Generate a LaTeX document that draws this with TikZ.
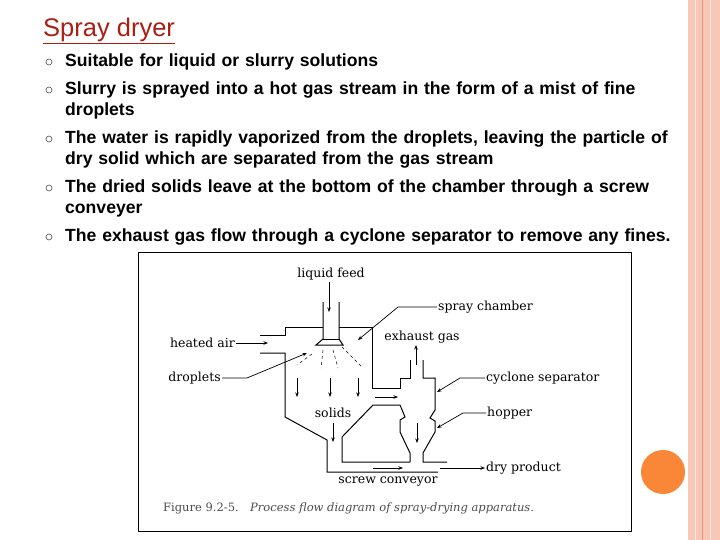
\documentclass[tikz,border=0pt]{standalone}
\usepackage{fontspec}
\setmainfont{Liberation Sans}
\newfontfamily\dsf{DejaVu Serif}
\usetikzlibrary{arrows.meta}
\definecolor{peach}{RGB}{248,200,182}
\definecolor{peachline}{RGB}{236,150,120}
\definecolor{ttl}{RGB}{170,30,20}
\definecolor{orng}{RGB}{250,134,56}
\begin{document}
\begin{tikzpicture}[x=1pt,y=-1pt,
  bul/.style={anchor=west,font=\bfseries\fontsize{17.6}{21.5}\selectfont,text width=640pt,inner sep=0pt},
  dot/.style={draw=black!70,circle,line width=0.6pt,minimum size=6pt,inner sep=0pt},
  lab/.style={font=\dsf\fontsize{12.5}{14}\selectfont,inner sep=1pt},
  ln/.style={line width=1pt},
  arr/.style={line width=0.7pt,-{Stealth[length=4.5pt,width=3.5pt]}}]
\useasboundingbox (0,0) rectangle (720,540);
\fill[white] (0,0) rectangle (720,540);
\fill[peach] (688,0) rectangle (720,540);
\draw[white!60!peach,line width=0.8pt] (695,0)--(695,540);
\draw[peachline,line width=0.8pt] (702,0)--(702,540);
\draw[white!60!peach,line width=0.8pt] (710,0)--(710,540);
\fill[orng] (663,472) circle (22);
\node[anchor=west,inner sep=0pt,text=ttl,font=\fontsize{25.5}{27}\selectfont] (t) at (43,31) {\underline{Spray dryer}};
\foreach \y/\n in {62/a,90/b,139/c,188/d,237/e}{\node[dot] (d\n) at (49,\y) {};}
\node[bul] (ba) at (65,62) {Suitable for liquid or slurry solutions};
\node[bul,anchor=north west] (bb) at (65,81.5) {Slurry is sprayed into a hot gas stream in the form of a mist of fine\\droplets};
\node[bul,anchor=north west] (bc) at (65,130.5) {The water is rapidly vaporized from the droplets, leaving the particle of\\dry solid which are separated from the gas stream};
\node[bul,anchor=north west] (bd) at (65,179.5) {The dried solids leave at the bottom of the chamber through a screw\\conveyer};
\node[bul] (be) at (65,237) {The exhaust gas flow through a cyclone separator to remove any fines.};
% figure frame
\draw[line width=0.8pt] (138,252) rectangle (631,531);
% apparatus
\draw[ln] (323,302)--(323,339)--(316,345)--(343,345)--(339,339)--(339,302);
\draw[ln] (323,339)--(339,339);
\draw[ln] (260,335)--(285,335)--(285,327)--(323,327);
\draw[ln] (339,327)--(372,327)--(372,388)--(400,388)--(400,378)--(410,378)--(410,360);
\draw[ln] (260,353)--(285,353)--(285,417)--(327,440)--(327,472)--(438,472);
\draw[ln] (423,360)--(423,378)--(435,378)--(435,410)--(430,418)--(435,421)--(435,432)--(423,453)--(423,462)--(447,462);
\draw[ln] (410,462)--(342,462)--(342,437)--(373,405)--(400,405)--(405,417)--(400,420)--(400,432)--(410,453)--(410,462);
\foreach \a/\b in {{(312,354)}/{(297,365)},{(323,350)}/{(321,368)},{(333,350)}/{(338,368)},{(342,347)}/{(362,367)}}
  \draw[dashed,line width=0.5pt] \a--\b;
% labels
\node[lab] (lf) at (331,274) {liquid feed};
\coordinate (lfs) at (329,282); \coordinate (lfe) at (329,312);
\draw[arr] (lfs)--(lfe);
\node[lab,anchor=east] (ha) at (236,343) {heated air};
\coordinate (hae) at (268,343);
\draw[arr] (ha)--(hae);
\node[lab,anchor=east] (dr) at (222,378) {droplets};
\coordinate (dre) at (307,353);
\draw[arr] (dr.east)--(247,378)--(dre);
\node[lab,anchor=west] (sc) at (437,307) {spray chamber};
\coordinate (sce) at (358,340);
\draw[arr] (sc.west)--(398,307)--(sce);
\node[lab] (eg) at (422,337) {exhaust gas};
\coordinate (eg1) at (416,365); \coordinate (eg2) at (416,345);
\draw[arr] (eg1)--(eg2);
\node[lab,anchor=west] (cs) at (485,378) {cyclone separator};
\coordinate (cse) at (437,392);
\draw[arr] (cs.west)--(460,378)--(cse);
\node[lab,anchor=west] (hp) at (486,413) {hopper};
\coordinate (hpe) at (437,428);
\draw[arr] (hp.west)--(463,413)--(hpe);
\node[lab] (so) at (333,413) {solids};
\coordinate (sos) at (333,423); \coordinate (soe) at (333,442);
\draw[arr] (sos)--(soe);
\foreach \x in {297,330,358}{\coordinate (s\x a) at (\x,378); \coordinate (s\x b) at (\x,397); \draw[arr] (s\x a)--(s\x b);}
\coordinate (i1) at (375,397); \coordinate (i2) at (398,397); \draw[arr] (i1)--(i2);
\coordinate (h1) at (417,423); \coordinate (h2) at (417,443); \draw[arr] (h1)--(h2);
\coordinate (c1) at (373,468); \coordinate (c2) at (403,468); \draw[arr] (c1)--(c2);
\node[lab,anchor=west] (dp) at (485,468) {dry product};
\coordinate (dps) at (440,468);
\draw[arr] (dps)--(dp.west);
\node[lab] (scv) at (388,482) {screw conveyor};
\node[anchor=west,inner sep=0pt,text=black!70,font=\dsf\fontsize{11.5}{13}\selectfont] (cap) at (163,508) {\textsc{Figure} 9.2-5.\quad \textit{Process flow diagram of spray-drying apparatus.}};
\end{tikzpicture}
\end{document}
